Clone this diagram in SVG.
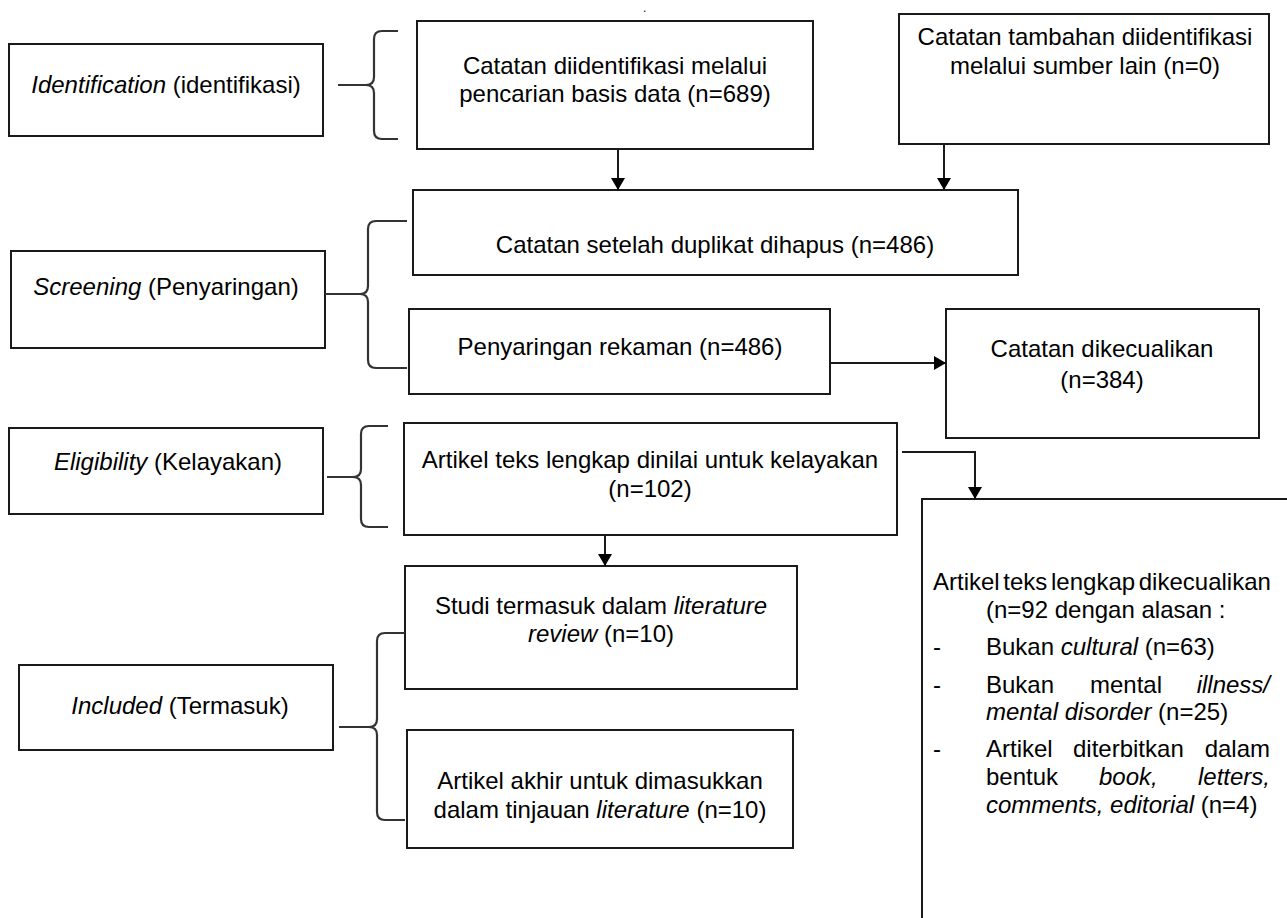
<svg xmlns="http://www.w3.org/2000/svg" width="1287" height="918" viewBox="0 0 1287 918">
<style>
.box{fill:#fff;stroke:#1a1a1a;stroke-width:2}
.t{font-family:"Liberation Sans",Arial,sans-serif;font-size:24px;fill:#000}
.c{text-anchor:middle}
.e{text-anchor:end}
.i{font-style:italic}
.con{fill:none;stroke:#1a1a1a;stroke-width:2}
.br{fill:none;stroke:#333;stroke-width:2.2}
</style>
<defs>
<marker id="ah" markerUnits="userSpaceOnUse" markerWidth="12" markerHeight="14" viewBox="0 0 12 14" refX="12" refY="7" orient="auto">
<path d="M0,0 L12,7 L0,14 z" fill="#000"/>
</marker>
</defs>
<rect width="1287" height="918" fill="#fff"/>
<text class="t" x="643" y="12" style="font-size:12px">.</text>

<g id="stage-identification">
<rect class="box" x="9" y="44" width="314" height="92"/>
<text class="t c" x="166" y="93"><tspan class="i">Identification</tspan> (identifikasi)</text>
</g>
<g id="stage-screening">
<rect class="box" x="11" y="251" width="314" height="97"/>
<text class="t c" x="166" y="295"><tspan class="i">Screening</tspan> (Penyaringan)</text>
</g>
<g id="stage-eligibility">
<rect class="box" x="9" y="428" width="314" height="86"/>
<text class="t c" x="168" y="470"><tspan class="i">Eligibility</tspan> (Kelayakan)</text>
</g>
<g id="stage-included">
<rect class="box" x="19" y="665" width="314" height="85"/>
<text class="t c" x="180" y="714"><tspan class="i">Included</tspan> (Termasuk)</text>
</g>

<g id="n-database">
<rect class="box" x="417" y="21" width="396" height="128"/>
<text class="t c" x="615" y="74">Catatan diidentifikasi melalui</text>
<text class="t c" x="615" y="102">pencarian basis data (n=689)</text>
</g>
<g id="n-other">
<rect class="box" x="899" y="14" width="370" height="130"/>
<text class="t c" x="1085" y="45">Catatan tambahan diidentifikasi</text>
<text class="t c" x="1085" y="74">melalui sumber lain (n=0)</text>
</g>
<g id="n-dedup">
<rect class="box" x="413" y="190" width="605" height="85"/>
<text class="t c" x="715" y="253">Catatan setelah duplikat dihapus (n=486)</text>
</g>
<g id="n-screen">
<rect class="box" x="409" y="309" width="421" height="85"/>
<text class="t c" x="620" y="355">Penyaringan rekaman (n=486)</text>
</g>
<g id="n-excluded">
<rect class="box" x="946" y="309" width="313" height="129"/>
<text class="t c" x="1102" y="357">Catatan dikecualikan</text>
<text class="t c" x="1102" y="388">(n=384)</text>
</g>
<g id="n-fulltext">
<rect class="box" x="404" y="423" width="493" height="112"/>
<text class="t c" x="650" y="468">Artikel teks lengkap dinilai untuk kelayakan</text>
<text class="t c" x="650" y="497">(n=102)</text>
</g>
<g id="n-ftexcluded">
<rect class="box" x="922" y="499" width="420" height="460"/>
<text class="t" x="933" y="590" word-spacing="-3">Artikel teks lengkap dikecualikan</text>
<text class="t" x="986" y="618">(n=92 dengan alasan :</text>
<text class="t" x="933" y="655">-</text>
<text class="t" x="986" y="655">Bukan <tspan class="i">cultural</tspan> (n=63)</text>
<text class="t" x="933" y="693">-</text>
<text class="t" x="986" y="693">Bukan</text>
<text class="t" x="1090" y="693">mental</text>
<text class="t e i" x="1270" y="693">illness/</text>
<text class="t" x="986" y="720"><tspan class="i">mental disorder</tspan> (n=25)</text>
<text class="t" x="933" y="757">-</text>
<text class="t" x="986" y="757">Artikel</text>
<text class="t" x="1073" y="757">diterbitkan</text>
<text class="t e" x="1270" y="757">dalam</text>
<text class="t" x="986" y="785">bentuk</text>
<text class="t i" x="1099" y="785">book,</text>
<text class="t e i" x="1270" y="785">letters,</text>
<text class="t" x="986" y="813"><tspan class="i">comments, editorial</tspan> (n=4)</text>
</g>
<g id="n-studies">
<rect class="box" x="405" y="566" width="392" height="123"/>
<text class="t c" x="601" y="614">Studi termasuk dalam <tspan class="i">literature</tspan></text>
<text class="t c" x="601" y="642"><tspan class="i">review</tspan> (n=10)</text>
</g>
<g id="n-final">
<rect class="box" x="407" y="730" width="386" height="118"/>
<text class="t c" x="600" y="789">Artikel akhir untuk dimasukkan</text>
<text class="t c" x="600" y="818">dalam tinjauan <tspan class="i">literature</tspan> (n=10)</text>
</g>

<g id="connectors">
<path class="con" d="M618,149 V190" marker-end="url(#ah)"/>
<path class="con" d="M944,144 V190" marker-end="url(#ah)"/>
<path class="con" d="M830,363 H946" marker-end="url(#ah)"/>
<path class="con" d="M902,452 H975 V499" marker-end="url(#ah)"/>
<path class="con" d="M605,535 V566" marker-end="url(#ah)"/>
<path class="br" d="M338,85 H366 Q374,85 374,77 V39 Q374,31 382,31 H398 M366,85 Q374,85 374,93 V131 Q374,139 382,139 H398"/>
<path class="br" d="M325,294 H360 Q368,294 368,286 V229 Q368,221 376,221 H407 M360,294 Q368,294 368,302 V360 Q368,368 376,368 H407"/>
<path class="br" d="M327,477 H353 Q361,477 361,469 V434 Q361,426 369,426 H388 M353,477 Q361,477 361,485 V519 Q361,527 369,527 H388"/>
<path class="br" d="M339,727 H369 Q377,727 377,719 V641 Q377,633 385,633 H405 M369,727 Q377,727 377,735 V812 Q377,820 385,820 H405"/>
</g>
</svg>
